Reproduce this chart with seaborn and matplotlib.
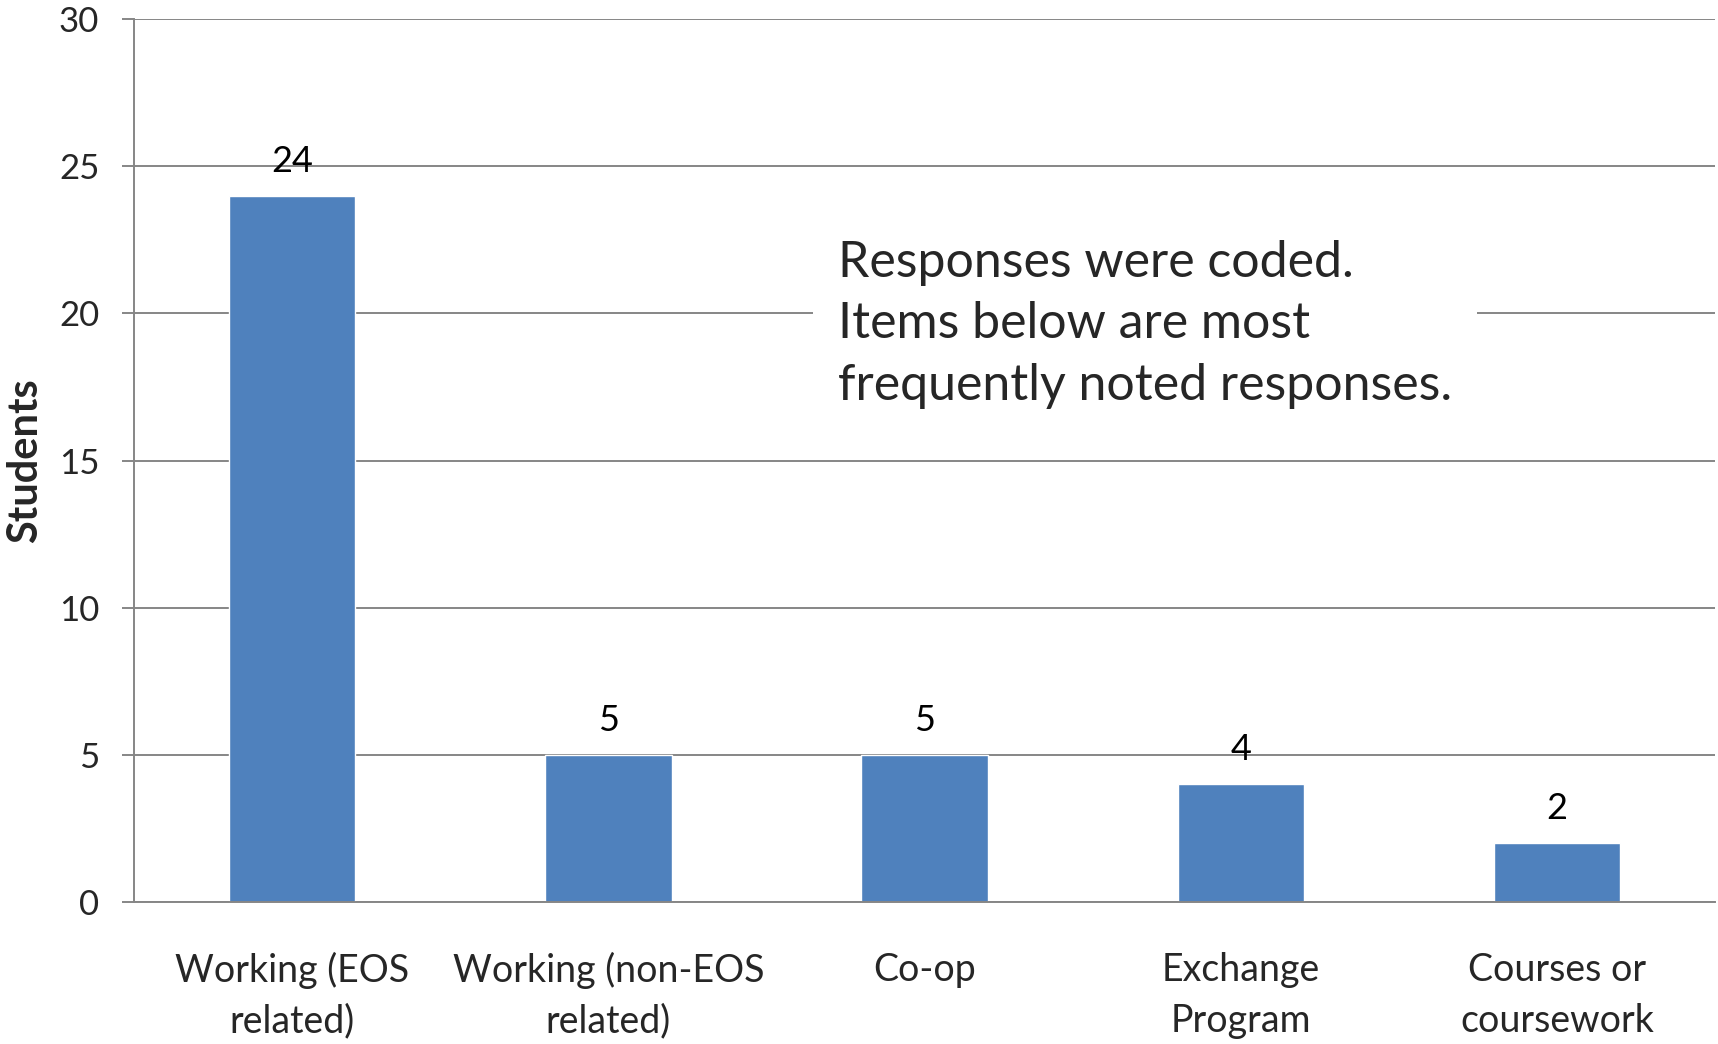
import seaborn as sns
import matplotlib.pyplot as plt
import pandas as pd

categories = ['Working (EOS\nrelated)', 'Working (non-EOS\nrelated)', 'Co-op', 'Exchange\nProgram', 'Courses or\ncoursework']
students = [24, 5, 5, 4, 2]
y_ticks = [0, 5, 10, 15, 20, 25, 30]
note = 'Responses were coded.\nItems below are most\nfrequently noted responses.'

sns.set_style("white")
plt.rcParams['font.family'] = ['Lato', 'DejaVu Sans']

df = pd.DataFrame({'category': categories, 'Students': students})

fig = plt.figure(figsize=(17.18, 10.44), dpi=100)
ax = fig.add_axes([0.078, 0.136, 0.9203, 0.8458])

sns.barplot(x='category', y='Students', data=df, color='#4F81BD', saturation=1, width=0.4, ax=ax)

# data labels above each bar
for c in ax.containers:
    ax.bar_label(c, padding=13, fontsize=26, color='black')

ax.set_ylim(0, 30)
ax.set_yticks(y_ticks)
ax.set_xlim(-0.5, len(categories) - 0.5)
ax.yaxis.grid(True, color='#868686', linewidth=1.4)
ax.set_axisbelow(True)

for side in ['top', 'right']:
    ax.spines[side].set_visible(False)
ax.spines['left'].set_color('#868686')
ax.spines['left'].set_linewidth(1.4)
ax.spines['bottom'].set_color('#868686')
ax.spines['bottom'].set_linewidth(1.4)

ax.tick_params(axis='y', length=9, width=1.4, color='#868686', pad=16, labelsize=25, left=True)
ax.tick_params(axis='x', length=0, pad=36, labelsize=27)
for lbl in ax.get_xticklabels():
    lbl.set_linespacing(1.5)
ax.set_xlabel('')
ax.set_ylabel('Students', fontsize=30, fontweight='bold')
ax.yaxis.set_label_coords(-0.057, 0.5)

ax.text(0.445, 0.75, note, transform=ax.transAxes, fontsize=36, va='top', ha='left',
        linespacing=1.42, bbox=dict(facecolor='white', edgecolor='none', pad=18))

plt.savefig('out.png', dpi=100)
